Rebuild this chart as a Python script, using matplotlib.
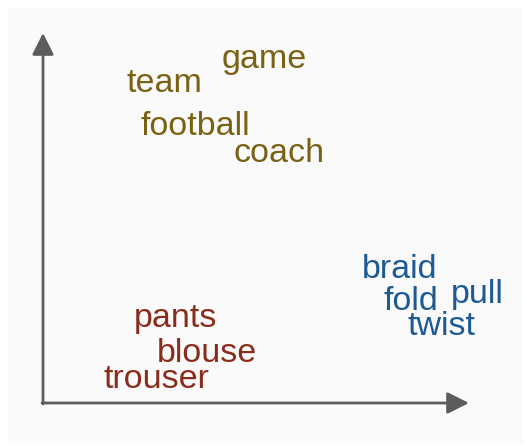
import matplotlib.pyplot as plt
from matplotlib.patches import Rectangle

# word positions in picture units (x = centre, y = baseline, y grows downwards)
sport_words = ["game", "team", "football", "coach"]
sport_x = [264, 164, 195, 279]
sport_y = [68, 92, 135, 162]

cloth_words = ["pants", "blouse", "trouser"]
cloth_x = [176, 207, 156]
cloth_y = [327, 362, 388]

verb_words = ["braid", "fold", "pull", "twist"]
verb_x = [400, 411, 477, 441]
verb_y = [278, 310, 303, 335]

groups = [
    (sport_words, sport_x, sport_y, "#7a6215"),
    (cloth_words, cloth_x, cloth_y, "#8a2c1c"),
    (verb_words, verb_x, verb_y, "#1d5a95"),
]

fig = plt.figure(figsize=(5.27, 4.47), dpi=100)
ax = fig.add_axes([0, 0, 1, 1])
ax.set_xlim(0, 527)
ax.set_ylim(447, 0)
ax.axis("off")

# light panel behind everything
ax.add_patch(Rectangle((8, 8), 515, 435, facecolor="#fafafa", edgecolor="none", zorder=0))

# the two axis arrows
arrow = dict(arrowstyle="-|>,head_length=0.6,head_width=0.3", mutation_scale=22,
             lw=2, color="#5c5c5c", shrinkA=0, shrinkB=0)
ax.annotate("", xy=(43, 33), xytext=(43, 404), arrowprops=arrow)
ax.annotate("", xy=(469, 403), xytext=(42, 403), arrowprops=arrow)

for words, xs, ys, color in groups:
    for w, x, y in zip(words, xs, ys):
        ax.text(x, y, w, ha="center", va="baseline", color=color,
                fontsize=24.5, family="Liberation Sans")

fig.savefig("out.png", dpi=100)
